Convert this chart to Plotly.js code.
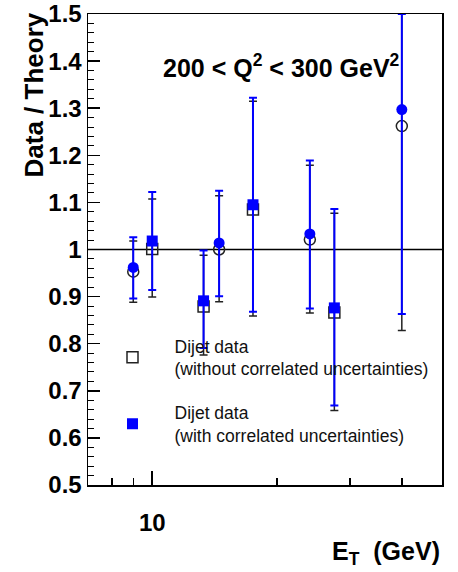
<!DOCTYPE html>
<html>
<head>
<meta charset="utf-8">
<script src="https://cdn.plot.ly/plotly-3.0.1.min.js"></script>
<style>html,body{margin:0;padding:0;background:#fff;}#chart{width:458px;height:572px;}</style>
</head>
<body>
<div id="chart"></div>
<script>
// E_T bin positions (GeV)
var etCircle = [9.0, 14.5, 24.0, 40.0];
var etSquare = [10.0, 13.3, 17.5, 27.5];

// Data / Theory without correlated uncertainties (open markers)
var openCircleVal = [0.953, 1.000, 1.021, 1.262];
var openCircleHi  = [1.018, 1.114, 1.179, 1.530];
var openCircleLo  = [0.888, 0.889, 0.865, 0.828];
var openSquareVal = [1.001, 0.879, 1.085, 0.866];
var openSquareHi  = [1.107, 0.988, 1.315, 1.077];
var openSquareLo  = [0.899, 0.776, 0.859, 0.658];

// Data / Theory with correlated uncertainties (filled markers)
var fullCircleVal = [0.962, 1.014, 1.033, 1.297];
var fullCircleHi  = [1.026, 1.125, 1.189, 1.500];
var fullCircleLo  = [0.896, 0.901, 0.875, 0.863];
var fullSquareVal = [1.018, 0.891, 1.095, 0.876];
var fullSquareHi  = [1.122, 0.998, 1.322, 1.086];
var fullSquareLo  = [0.914, 0.791, 0.868, 0.669];

var legendOpen = 'Dijet data<br>(without correlated uncertainties)';
var legendFull = 'Dijet data<br>(with correlated uncertainties)';
var yTickVals = [0.5, 0.6, 0.7, 0.8, 0.9, 1, 1.1, 1.2, 1.3, 1.4, 1.5];
var yTickText = ['0.5', '0.6', '0.7', '0.8', '0.9', '1', '1.1', '1.2', '1.3', '1.4', '1.5'];
var xMajorTicks = [10];
var xMinorTicks = [8, 9, 20, 30, 40];

function up(hi, v) { return hi.map(function (h, i) { return h - v[i]; }); }
function dn(lo, v) { return lo.map(function (l, i) { return v[i] - l; }); }

var BLUE = '#0000ff';
var BLACK = '#222222';

function mk(x, y, hi, lo, symbol, color, lineW, errColor, errThick, name, show, group) {
  return {
    type: 'scatter', mode: 'markers', x: x, y: y, name: name, showlegend: show,
    legendgroup: group,
    marker: {
      symbol: symbol, size: 11, color: color,
      line: {color: color, width: lineW}
    },
    error_y: {type: 'data', symmetric: false, array: up(hi, y), arrayminus: dn(lo, y),
      color: errColor, thickness: errThick, width: 4},
    cliponaxis: true, hoverinfo: 'skip'
  };
}

var traces = [
  mk(etCircle, openCircleVal, openCircleHi, openCircleLo, 'circle-open', BLACK, 1.5, BLACK, 1.5, legendOpen, false, 'a'),
  mk(etSquare, openSquareVal, openSquareHi, openSquareLo, 'square-open', BLACK, 1.5, BLACK, 1.5, legendOpen, true, 'a'),
  mk(etCircle, fullCircleVal, fullCircleHi, fullCircleLo, 'circle', BLUE, 0, BLUE, 2, legendFull, false, 'b'),
  mk(etSquare, fullSquareVal, fullSquareHi, fullSquareLo, 'square', BLUE, 0, BLUE, 2, legendFull, true, 'b'),
  {type: 'scatter', x: [], y: [], xaxis: 'x2', showlegend: false, hoverinfo: 'skip'}
];

var FONT = 'Liberation Sans, Arial, Helvetica, sans-serif';
var xr = [Math.log10(7), Math.log10(50)];

var layout = {
  width: 458, height: 572,
  margin: {l: 88, r: 16, t: 14, b: 87, pad: 0},
  paper_bgcolor: '#ffffff', plot_bgcolor: '#ffffff',
  font: {family: FONT, color: '#000'},
  showlegend: true,
  legend: {
    x: (90.5 - 88) / 354, xanchor: 'left', y: 1 - (328 - 14) / 471, yanchor: 'top',
    bgcolor: 'rgba(0,0,0,0)', borderwidth: 0,
    font: {family: FONT, size: 17.5, color: '#111'},
    traceorder: 'grouped', tracegroupgap: 18, itemwidth: 74
  },
  xaxis: {
    type: 'log', range: xr, autorange: false,
    showline: true, linecolor: '#000', linewidth: 1.5, mirror: true,
    showgrid: false, zeroline: false,
    ticks: 'inside', ticklen: 14, tickwidth: 1.5, tickcolor: '#000',
    tickvals: xMajorTicks, ticktext: ['10'],
    tickfont: {family: FONT, size: 24, weight: 'bold', color: '#000'},
    ticklabelstandoff: 16
  },
  xaxis2: {
    type: 'log', range: xr, autorange: false, overlaying: 'x', anchor: 'y', side: 'bottom',
    showline: false, showgrid: false, zeroline: false,
    ticks: 'inside', ticklen: 7, tickwidth: 1.5, tickcolor: '#000',
    tickvals: xMinorTicks, showticklabels: false
  },
  yaxis: {
    range: [0.5, 1.5], autorange: false,
    showline: true, linecolor: '#000', linewidth: 1.5, mirror: true,
    showgrid: false, zeroline: false,
    ticks: 'inside', ticklen: 12, tickwidth: 1.5, tickcolor: '#000',
    tickvals: yTickVals, ticktext: yTickText,
    tickfont: {family: FONT, size: 24, weight: 'bold', color: '#000'},
    minor: {dtick: 0.02, ticks: 'inside', ticklen: 6, tickwidth: 1, tickcolor: '#000', showgrid: false}
  },
  shapes: [
    {type: 'line', xref: 'paper', x0: 0, x1: 1, yref: 'y', y0: 1, y1: 1,
     line: {color: '#000', width: 1.5}, layer: 'below'}
  ],
  annotations: [
    {text: '<b>200 &lt; Q<sup>2</sup> &lt; 300 GeV<sup>2</sup></b>', xref: 'paper', yref: 'paper',
     x: (281 - 88) / 354, y: 1 - (66 - 14) / 471, xanchor: 'center', yanchor: 'middle',
     showarrow: false, font: {family: FONT, size: 25, color: '#000'}},
    {text: '<b>Data / Theory</b>', xref: 'paper', yref: 'paper', textangle: -90,
     x: (33 - 88) / 354, y: 1 + (14 - 10) / 471, xanchor: 'center', yanchor: 'top',
     showarrow: false, font: {family: FONT, size: 26, color: '#000'}},
    {text: '<b>E<sub>T</sub>  (GeV)</b>', xref: 'paper', yref: 'paper',
     x: 1, y: -(553 - 485) / 471, xanchor: 'right', yanchor: 'middle',
     showarrow: false, font: {family: FONT, size: 25, color: '#000'}}
  ]
};

Plotly.newPlot('chart', traces, layout, {displayModeBar: false, staticPlot: true});
</script>
</body>
</html>
